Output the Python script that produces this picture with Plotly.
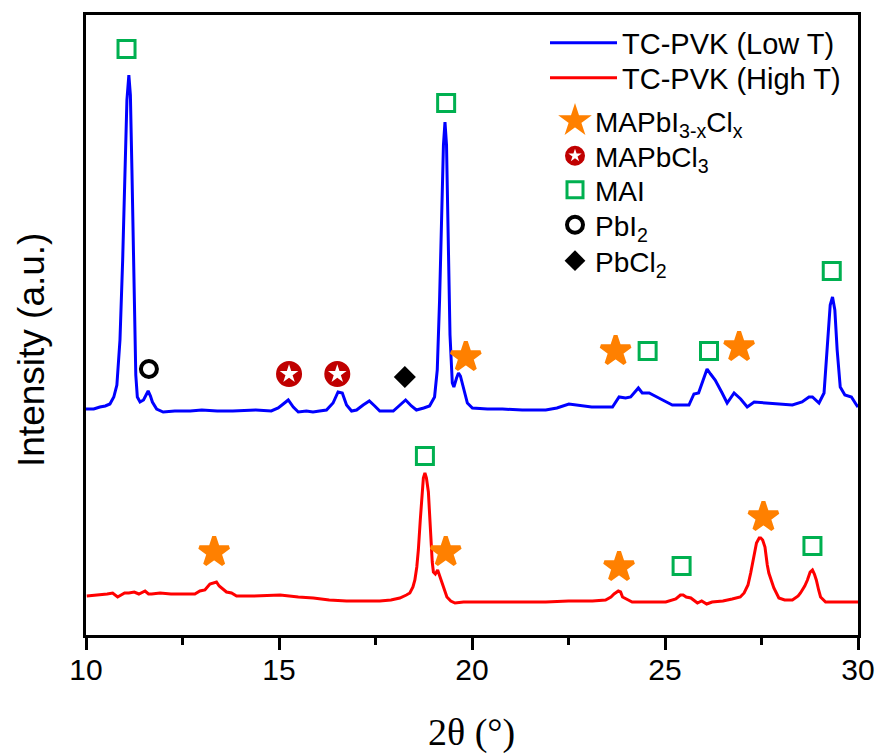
import plotly.graph_objects as go

# ---------------- data ----------------
two_theta_low = [10.00, 10.20, 10.36, 10.50, 10.62, 10.72, 10.80, 10.88, 10.95, 11.01, 11.06, 11.11,
                 11.15, 11.19, 11.24, 11.29, 11.33, 11.40, 11.49, 11.55, 11.61, 11.67, 11.72, 11.83,
                 12.00, 12.30, 12.70, 13.00, 13.40, 13.80, 14.40, 14.80, 14.98, 15.11, 15.24, 15.37,
                 15.50, 15.71, 15.88, 16.05, 16.23, 16.40, 16.53, 16.64, 16.75, 16.88, 17.01, 17.18,
                 17.34, 17.48, 17.61, 17.96, 18.17, 18.28, 18.43, 18.56, 18.75, 18.90, 19.03, 19.10,
                 19.16, 19.21, 19.26, 19.30, 19.34, 19.38, 19.43, 19.49, 19.53, 19.60, 19.65, 19.70,
                 19.75, 19.88, 20.01, 20.40, 20.79, 21.30, 21.91, 22.20, 22.51, 22.77, 23.10, 23.38,
                 23.64, 23.81, 23.98, 24.11, 24.31, 24.41, 24.59, 24.84, 25.19, 25.62, 25.75, 25.87,
                 25.98, 26.09, 26.18, 26.30, 26.48, 26.61, 26.79, 26.96, 27.13, 27.31, 27.61, 28.00,
                 28.30, 28.55, 28.73, 28.82, 28.99, 29.12, 29.21, 29.28, 29.34, 29.40, 29.46, 29.54,
                 29.66, 29.83, 29.96, 30.00]
intensity_low = [226, 226, 228, 229, 231, 238, 250, 295, 375, 465, 535, 560,
                 540, 465, 345, 260, 238, 233, 235, 240, 244, 239, 233, 226,
                 223, 224, 224, 225, 224, 224, 225, 224, 227, 231, 235, 228,
                 223, 224, 223, 224, 225, 232, 243, 242, 230, 224, 225, 230,
                 234, 229, 224, 224, 231, 235, 229, 225, 227, 229, 238, 265,
                 335, 425, 490, 513, 490, 405, 300, 252, 248, 257, 262, 259,
                 252, 232, 227, 226, 226, 225, 225, 227, 231, 230, 228, 228,
                 228, 238, 237, 238, 247, 242, 242, 237, 230, 230, 241, 242,
                 255, 266, 261, 255, 242, 232, 242, 236, 228, 233, 232, 231,
                 230, 233, 238, 238, 232, 242, 295, 330, 338, 325, 285, 248,
                 240, 238, 230, 228]

two_theta_high = [10.02, 10.34, 10.55, 10.69, 10.82, 11.00, 11.11, 11.25, 11.37, 11.53, 11.62, 11.70,
                  11.92, 12.20, 12.44, 12.82, 12.95, 13.08, 13.21, 13.30, 13.38, 13.45, 13.51, 13.64,
                  13.77, 13.90, 14.33, 15.03, 15.50, 15.89, 16.30, 16.75, 17.20, 17.61, 17.90, 18.13,
                  18.30, 18.39, 18.47, 18.52, 18.57, 18.61, 18.66, 18.70, 18.74, 18.78, 18.82, 18.87,
                  18.93, 18.97, 19.00, 19.05, 19.11, 19.16, 19.22, 19.35, 19.45, 19.56, 19.78, 20.18,
                  21.00, 21.91, 22.50, 23.12, 23.46, 23.60, 23.68, 23.79, 23.85, 23.90, 24.15, 24.60,
                  25.02, 25.28, 25.40, 25.47, 25.55, 25.67, 25.84, 25.95, 26.08, 26.22, 26.50, 26.74,
                  26.95, 27.05, 27.15, 27.22, 27.30, 27.37, 27.44, 27.48, 27.53, 27.59, 27.65, 27.69,
                  27.82, 27.95, 28.10, 28.30, 28.45, 28.51, 28.62, 28.69, 28.76, 28.82, 28.87, 28.92,
                  28.98, 29.03, 29.16, 29.50, 29.94, 30.00]
intensity_high = [39, 40, 41, 42, 38, 42, 42, 43, 41, 44, 41, 41,
                  42, 41, 41, 41, 44, 45, 51, 52, 53, 49, 47, 43,
                  42, 39, 39, 40, 38, 37, 35, 34, 34, 34, 35, 37,
                  40, 42, 48, 55, 68, 85, 115, 137, 157, 162, 157, 143,
                  95, 73, 63, 61, 65, 59, 52, 38, 34, 32, 33, 33,
                  33, 33, 34, 34, 35, 38, 41, 44, 43, 38, 33, 33,
                  33, 36, 40, 40, 38, 37, 32, 34, 31, 33, 34, 36,
                  38, 42, 50, 62, 80, 92, 97, 97, 95, 88, 70, 62,
                  47, 37, 35, 35, 39, 42, 49, 55, 63, 65, 61, 55,
                  45, 38, 33, 33, 33, 33]

# phase markers: (2theta, height)
mapbicl_x = [19.84, 23.72, 26.92, 13.32, 19.32, 23.81, 27.55]
mapbicl_y = [278, 284, 288, 83, 83, 68, 118]
mapbcl3_x = [15.26, 16.51]
mapbcl3_y = [261, 261]
mai_x = [11.05, 19.33, 24.55, 26.14, 29.32, 18.78, 25.43, 28.82]
mai_y = [586, 532, 284, 284, 364, 179, 69, 89]
pbi2_x = [11.63]
pbi2_y = [266]
pbcl2_x = [18.26]
pbcl2_y = [258]

x_ticks = [10, 15, 20, 25, 30]

# ---------------- figure ----------------
FONT = "Arial, Liberation Sans, sans-serif"
PLOT_L, PLOT_R, PLOT_T, PLOT_B = 86, 858, 15, 635
W, H = 879, 755


def px_x(p):
    return (p - PLOT_L) / (PLOT_R - PLOT_L)


def px_y(p):
    return (PLOT_B - p) / (PLOT_B - PLOT_T)


fig = go.Figure()

fig.add_trace(go.Scatter(x=two_theta_low, y=intensity_low, mode="lines", name="TC-PVK (Low T)",
                         line=dict(color="#0000FF", width=3), legend="legend"))
fig.add_trace(go.Scatter(x=two_theta_high, y=intensity_high, mode="lines", name="TC-PVK (High T)",
                         line=dict(color="#FF0000", width=3), legend="legend2"))

fig.add_trace(go.Scatter(x=mapbicl_x, y=mapbicl_y, mode="markers",
                         name="MAPbI<sub>3-x</sub>Cl<sub>x</sub>",
                         marker=dict(symbol="star", size=22, color="#FF8000",
                                     line=dict(width=4, color="#FF8000")),
                         legend="legend3"))
fig.add_trace(go.Scatter(x=mapbcl3_x, y=mapbcl3_y, mode="markers", name="MAPbCl<sub>3</sub>",
                         marker=dict(symbol="circle", size=22, color="#C00000",
                                     line=dict(width=4, color="#C00000")),
                         legend="legend4"))
fig.add_trace(go.Scatter(x=mapbcl3_x, y=mapbcl3_y, mode="markers", showlegend=False,
                         marker=dict(symbol="star", size=14, color="white", line=dict(width=0)),
                         hoverinfo="skip"))
# small white star: hidden inside the one above, provides the star inside the legend circle
fig.add_trace(go.Scatter(x=mapbcl3_x, y=mapbcl3_y, mode="markers", name="MAPbCl<sub>3</sub>",
                         marker=dict(symbol="star", size=10, color="white", line=dict(width=0)),
                         hoverinfo="skip", legend="legend8"))
fig.add_trace(go.Scatter(x=mai_x, y=mai_y, mode="markers", name="MAI",
                         marker=dict(symbol="square-open", size=17, color="#00B050", line=dict(width=3)),
                         legend="legend5"))
fig.add_trace(go.Scatter(x=pbi2_x, y=pbi2_y, mode="markers", name="PbI<sub>2</sub>",
                         marker=dict(symbol="circle-open", size=16, color="black", line=dict(width=4)),
                         legend="legend6"))
fig.add_trace(go.Scatter(x=pbcl2_x, y=pbcl2_y, mode="markers", name="PbCl<sub>2</sub>",
                         marker=dict(symbol="diamond", size=17, color="black", line=dict(width=0)),
                         legend="legend7"))


def leg(x_px, y_px, size=28, color="black", itemwidth=30):
    return dict(x=px_x(x_px), y=px_y(y_px), xanchor="left", yanchor="middle",
                bgcolor="rgba(0,0,0,0)", borderwidth=0,
                font=dict(size=size, family=FONT, color=color), itemwidth=itemwidth)


fig.update_layout(
    width=W, height=H,
    margin=dict(l=PLOT_L, r=W - PLOT_R, t=PLOT_T, b=H - PLOT_B),
    paper_bgcolor="white", plot_bgcolor="white",
    font=dict(family=FONT, color="black"),
    legend=leg(545, 43, size=29, itemwidth=67),
    legend2=leg(545, 78, size=29, itemwidth=67),
    legend3=leg(555, 121),
    legend4=leg(555, 156),
    legend5=leg(555, 190),
    legend6=leg(555, 225),
    legend7=leg(555, 261),
    legend8=leg(555, 156, color="rgba(0,0,0,0)"),
    xaxis=dict(range=[10, 30], tickvals=x_ticks, ticktext=[str(t) for t in x_ticks],
               showline=True, linewidth=3, linecolor="black", mirror=True,
               ticks="outside", ticklen=12, tickwidth=3, tickcolor="black",
               tickfont=dict(size=30, family=FONT), automargin=False, ticklabelstandoff=-6,
               minor=dict(dtick=2.5, tick0=10, ticks="outside", ticklen=7, tickwidth=3, tickcolor="black"),
               showgrid=False, zeroline=False),
    yaxis=dict(range=[0, 620], showline=True, linewidth=3, linecolor="black", mirror=True,
               ticks="", showticklabels=False, showgrid=False, zeroline=False, automargin=False),
    showlegend=True,
)

fig.add_annotation(text="Intensity (a.u.)", xref="paper", yref="paper", x=px_x(31), y=px_y(350),
                   textangle=-90, showarrow=False, font=dict(size=37, family=FONT),
                   xanchor="center", yanchor="middle")
fig.add_annotation(text="2θ (°)", xref="paper", yref="paper", x=px_x(471), y=px_y(733),
                   showarrow=False, font=dict(size=38, family="Times New Roman, Liberation Serif, serif"),
                   xanchor="center", yanchor="middle")

fig.write_html("out.html")
